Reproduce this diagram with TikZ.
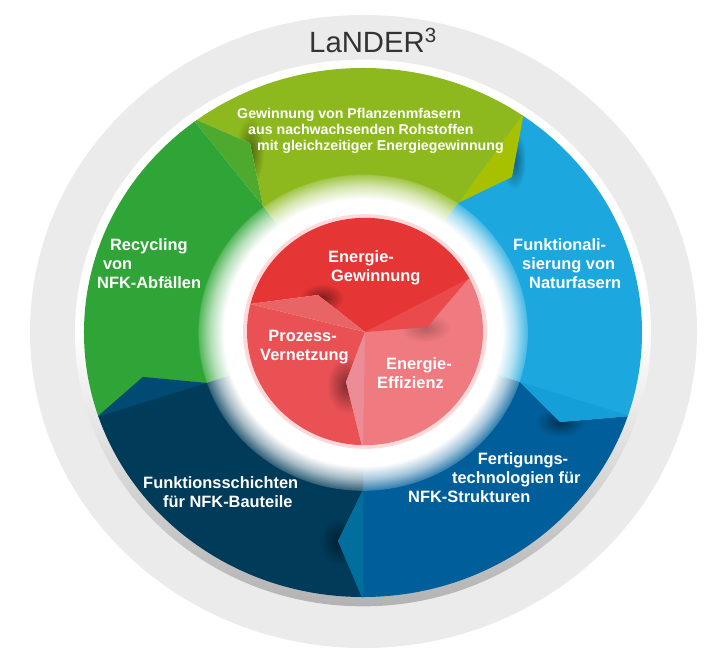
\documentclass[tikz,border=0pt]{standalone}
\usepackage{fontspec}
\setmainfont{Liberation Sans}
\usepackage{xcolor}
\usepackage{tikz}
\usetikzlibrary{positioning,fadings}
\definecolor{olive}{HTML}{8DB91E}
\definecolor{olivefold}{HTML}{A7C000}
\definecolor{leaf}{HTML}{2EA536}
\definecolor{leaffold}{HTML}{4EA92F}
\definecolor{sky}{HTML}{1CA8DF}
\definecolor{skyfold}{HTML}{149FD9}
\definecolor{ocean}{HTML}{005F9B}
\definecolor{oceanfold}{HTML}{006F9E}
\definecolor{navy}{HTML}{003C5A}
\definecolor{navyfold}{HTML}{004A73}
\definecolor{redtop}{HTML}{E53535}
\definecolor{redtopfold}{HTML}{E96565}
\definecolor{redleft}{HTML}{E95155}
\definecolor{redleftfold}{HTML}{EA4A4C}
\definecolor{redright}{HTML}{EF7A80}
\definecolor{redrightfold}{HTML}{EC8C96}
\pgfdeclareradialshading{glowshade}{\pgfpointorigin}{color(0bp)=(pgftransparent!0); color(21bp)=(pgftransparent!0); color(23bp)=(pgftransparent!35); color(24.8bp)=(pgftransparent!80); color(25bp)=(pgftransparent!100); color(50bp)=(pgftransparent!100)}
\pgfdeclarefading{glowfade}{\pgfuseshading{glowshade}}
\tikzfading[name=blobfade, inner color=transparent!55, outer color=transparent!100]
\tikzfading[name=halofade, inner color=transparent!100, outer color=transparent!75]

\begin{document}
\begin{tikzpicture}[x=0.03cm, y=-0.03cm,
        label/.style={text=white, font=\fontsize{14}{16.2}\selectfont\bfseries, align=left, anchor=west, inner sep=0pt},
        blob/.style={black, path fading=blobfade}
    ]
    \useasboundingbox (0,0) rectangle (714,650);

    % Outer ring
    \fill[black!8] (363.5,331.5) ellipse [x radius=10.005cm, y radius=9.495cm];
    \shade[shading angle=-25, top color=white, bottom color=black!30, middle color=white] (363,333) ellipse [x radius=8.64cm, y radius=8.2cm];

    \coordinate (ctr) at (363,332);
    \coordinate (gl) at (263,206);
    \coordinate (gr) at (458,203);
    \coordinate (br) at (520,382);
    \coordinate (bm) at (363,490);
    \coordinate (bl) at (206,383);

    % Segments
    \begin{scope}
        \clip (363,332.5) ellipse [x radius=8.37cm, y radius=7.935cm];
        \fill[leaf] (ctr) -- (gl) -- (192,118) -- (0,0) -- (0,450) -- (100,415) -- (143,377) -- (bl) -- cycle;
        \begin{scope}
            \clip (ctr) -- (gl) -- (250,143) -- (192,118) -- (300,0) -- (560,0) -- (524,112) -- (512,177) -- (gr) -- cycle;
            \fill[olive] (100,0) rectangle (600,300);
            \fill[blob] (250,152) ellipse [x radius=0.42cm, y radius=1.05cm];
        \end{scope}
        \fill[leaffold] (192,118) -- (250,143) -- (gl) -- cycle;
        \begin{scope}
            \clip (ctr) -- (gr) -- (524,112) -- (600,0) -- (714,0) -- (714,414) -- (630,416) -- (560,422) -- (br) -- cycle;
            \fill[sky] (400,0) rectangle (714,450);
            \fill[blob] (514,160) ellipse [x radius=0.36cm, y radius=0.9cm];
        \end{scope}
        \fill[olivefold] (524,112) -- (512,177) -- (gr) -- cycle;
        \begin{scope}
            \clip (ctr) -- (br) -- (560,422) -- (630,416) -- (714,414) -- (714,650) -- (363,650) -- (363,597) -- (338,541) -- (bm) -- cycle;
            \fill[ocean] (300,300) rectangle (714,650);
            \fill[blob] (560,422) ellipse [x radius=0.75cm, y radius=0.45cm];
        \end{scope}
        \fill[skyfold] (br) -- (560,422) -- (630,416) -- cycle;
        \begin{scope}
            \clip (ctr) -- (bm) -- (338,541) -- (363,597) -- (363,650) -- (0,650) -- (0,450) -- (100,415) -- (143,377) -- (bl) -- cycle;
            \fill[navy] (0,300) rectangle (400,650);
            \fill[blob] (338,541) ellipse [x radius=0.54cm, y radius=0.72cm];
        \end{scope}
        \fill[oceanfold] (bm) -- (338,541) -- (363,600) -- cycle;
        \fill[navyfold] (97,417) -- (143,377) -- (bl) -- cycle;
    \end{scope}

    % Glow round the centre
    \fill[white, path fading=glowfade, fit fading=true] (363,332.5) ellipse [x radius=4.95cm, y radius=4.75cm];

    % Red centre
    \fill[red!60, path fading=halofade] (365,331.5) ellipse [x radius=3.66cm, y radius=3.52cm];
    \begin{scope}
        \clip (365,331.5) ellipse [x radius=3.54cm, y radius=3.41cm];
        \coordinate (rc) at (365,332);
        \fill[redright] (rc) -- (346,382) -- (363,450) -- (500,450) -- (500,270) -- (468,279) -- (427,327) -- cycle;
        \begin{scope}
            \clip (rc) -- (427,327) -- (468,279) -- (500,270) -- (500,200) -- (230,200) -- (230,300) -- (250,304) -- (318,295) -- cycle;
            \fill[redtop] (230,200) rectangle (500,340);
            \fill[blob] (322,298) ellipse [x radius=0.66cm, y radius=0.42cm];
        \end{scope}
        \begin{scope}
            \clip (rc) -- (250,304) -- (230,300) -- (230,450) -- (363,450) -- (346,382) -- cycle;
            \fill[redleft] (230,290) rectangle (370,450);
            \fill[blob] (347,385) ellipse [x radius=0.6cm, y radius=0.84cm];
        \end{scope}
        \fill[blob, opacity=.5] (425,328) ellipse [x radius=0.75cm, y radius=0.42cm];
        \fill[redtopfold] (250,304) -- (318,295) -- (rc) -- cycle;
        \fill[redleftfold] (rc) -- (427,327) -- (468,279) -- cycle;
        \fill[redrightfold] (rc) -- (346,382) -- (363,450) -- cycle;
    \end{scope}

    % Labels
    \node[text=black!80, font=\fontsize{25}{27}\selectfont, inner sep=0pt, anchor=base west] (title) at (309,53) {LaNDER\textsuperscript{3}};
    \node[label, font=\fontsize{12.1}{13.6}\selectfont\bfseries] (gewinnung) at (237,130.5) {Gewinnung von Pflanzenmfasern\\\hspace*{9.4pt}aus nachwachsenden Rohstoffen\\\hspace*{17pt}mit gleichzeitiger Energiegewinnung};
    \node[label] (recycling) at (97,264) {\hspace*{11pt}Recycling\\\hspace*{5pt}von\\NFK-Abfällen};
    \node[label] (funktional) at (513,264) {Funktionali-\\\hspace*{7.6pt}sierung von\\\hspace*{13.6pt}Naturfasern};
    \node[label] (fertigung) at (408,478) {\hspace*{59.5pt}Fertigungs-\\\hspace*{37.4pt}technologien für\\NFK-Strukturen};
    \node[label] (schichten) at (143,492) {Funktionsschichten\\\hspace*{17pt}für NFK-Bauteile};
    \node[label] (egewinn) at (328,268) {Energie-\\\hspace*{2.5pt}Gewinnung};
    \node[label] (prozess) at (260,347) {\hspace*{7pt}Prozess-\\Vernetzung};
    \node[label] (effizienz) at (377,373) {\hspace*{7.6pt}Energie-\\Effizienz};
\end{tikzpicture}
\end{document}
